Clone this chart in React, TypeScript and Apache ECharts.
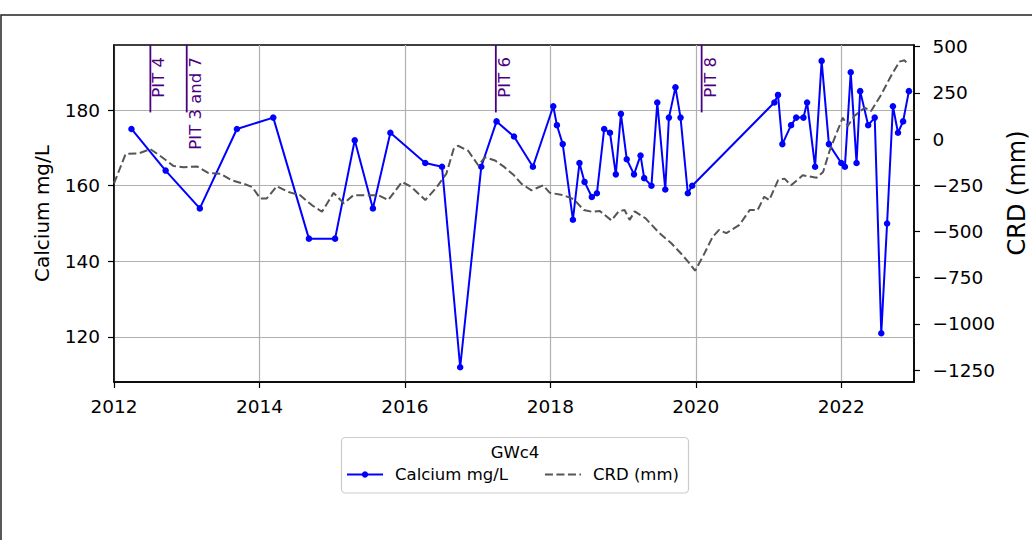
import React, { useEffect, useRef } from 'react';
import * as echarts from 'echarts';

const FONT = 'DejaVu Sans';

// Calcium (mg/L) samples, decimal years
const caYears = [2012.24, 2012.71, 2013.18, 2013.69, 2014.19, 2014.68, 2015.04, 2015.31, 2015.56, 2015.80,
  2016.28, 2016.51, 2016.76, 2017.05, 2017.26, 2017.50, 2017.76, 2018.04, 2018.09, 2018.17,
  2018.31, 2018.40, 2018.47, 2018.57, 2018.64, 2018.74, 2018.82, 2018.90, 2018.97, 2019.05,
  2019.15, 2019.24, 2019.29, 2019.39, 2019.47, 2019.58, 2019.63, 2019.72, 2019.79, 2019.89,
  2019.95, 2021.08, 2021.13, 2021.19, 2021.31, 2021.38, 2021.48, 2021.53, 2021.64, 2021.73,
  2021.83, 2022.00, 2022.05, 2022.13, 2022.21, 2022.26, 2022.37, 2022.46, 2022.55, 2022.63,
  2022.71, 2022.78, 2022.85, 2022.93];
const caValues = [175, 164, 154, 175, 178, 146, 146, 172, 154, 174,
  166, 165, 112, 165, 177, 173, 165, 181, 176, 171,
  151, 166, 161, 157, 158, 175, 174, 163, 179, 167,
  163, 168, 162, 160, 182, 159, 178, 186, 178, 158,
  160, 182, 184, 171, 176, 178, 178, 182, 165, 193,
  171, 166, 165, 190, 166, 185, 176, 178, 121, 150,
  181, 174, 177, 185];

// CRD (mm)
const crdYears = [2012.0, 2012.16, 2012.34, 2012.5, 2012.66, 2012.82, 2012.96, 2013.14, 2013.30, 2013.46,
  2013.62, 2013.78, 2013.90, 2014.01, 2014.10, 2014.24, 2014.40, 2014.56, 2014.72, 2014.86,
  2015.02, 2015.16, 2015.29, 2015.48, 2015.64, 2015.77, 2015.96, 2016.09, 2016.28, 2016.44,
  2016.57, 2016.67, 2016.73, 2016.87, 2017.01, 2017.10, 2017.24, 2017.37, 2017.50, 2017.60,
  2017.74, 2017.90, 2017.99, 2018.18, 2018.32, 2018.46, 2018.57, 2018.68, 2018.84, 2018.94,
  2019.02, 2019.09, 2019.16, 2019.31, 2019.49, 2019.66, 2019.79, 2019.89, 2019.99, 2020.11,
  2020.23, 2020.32, 2020.42, 2020.60, 2020.74, 2020.85, 2020.94, 2021.01, 2021.13, 2021.22,
  2021.31, 2021.47, 2021.66, 2021.75, 2021.84, 2021.93, 2022.02, 2022.09, 2022.18, 2022.32,
  2022.41, 2022.55, 2022.68, 2022.80, 2022.87, 2022.92];
const crdValues = [-240, -80, -77, -54, -98, -146, -152, -148, -184, -187,
  -223, -241, -259, -321, -321, -255, -286, -304, -357, -393,
  -291, -348, -304, -304, -304, -330, -232, -259, -330, -259,
  -187, -54, -36, -63, -143, -98, -116, -152, -196, -241,
  -277, -250, -290, -304, -325, -384, -393, -389, -440, -390,
  -384, -437, -391, -429, -505, -562, -616, -661, -712, -625,
  -530, -491, -509, -464, -384, -384, -312, -330, -223, -214,
  -250, -196, -209, -178, -63, 27, 116, 71, 125, 170,
  152, 241, 339, 419, 426, 402];

const pitYears = [2012.5, 2013.0, 2017.25, 2020.08];
const pitLabels = ['PIT 4', 'PIT 3 and 7', 'PIT 6', 'PIT 8'];

const xTicks = [2012, 2014, 2016, 2018, 2020, 2022];
const caTicks = [120, 140, 160, 180];
const crdTicks = [-1250, -1000, -750, -500, -250, 0, 250, 500];

const legendTitle = 'GWc4';
const caName = 'Calcium mg/L';
const crdName = 'CRD (mm)';

export default function App() {
  const ref = useRef<HTMLDivElement>(null);
  useEffect(() => {
    const chart = echarts.init(ref.current!, null, { renderer: 'svg' });
    const axisLine = { show: true, onZero: false, lineStyle: { color: '#000', width: 1.5 } };
    const axisTick = { show: true, inside: false, length: 6, lineStyle: { color: '#000', width: 1.2 } };
    const labelBase = { color: '#000', fontFamily: FONT, fontSize: 18.5 };
    const purple = '#4b0082';
    const option: any = {
      animation: false,
      backgroundColor: '#fff',
      grid: { left: 114, right: 118, top: 45, bottom: 158, show: true, borderColor: '#000', borderWidth: 1.5, backgroundColor: 'transparent', containLabel: false },
      xAxis: {
        type: 'value', min: 2012, max: 2023, interval: 2,
        axisLine,
        axisTick: { ...axisTick, customValues: xTicks },
        axisLabel: { ...labelBase, margin: 15, customValues: xTicks, formatter: (v: number) => (xTicks.includes(v) ? String(v) : '') },
        splitLine: { show: true, lineStyle: { color: '#b0b0b0', width: 1.2 } },
      },
      yAxis: [
        {
          type: 'value', min: 108.1, max: 197.2, position: 'left',
          name: caName, nameLocation: 'middle', nameGap: 62,
          nameTextStyle: { color: '#000', fontFamily: FONT, fontSize: 20 },
          axisLine,
          axisTick: { ...axisTick, customValues: caTicks },
          axisLabel: { ...labelBase, margin: 14, customValues: caTicks, formatter: (v: number) => (caTicks.includes(v) ? String(v) : '') },
          splitLine: { show: true, lineStyle: { color: '#b0b0b0', width: 1.2 } },
        },
        {
          type: 'value', min: -1314, max: 509, position: 'right',
          axisLine,
          axisTick: { ...axisTick, customValues: crdTicks },
          axisLabel: { ...labelBase, margin: 18.5, customValues: crdTicks, formatter: (v: number) => String(v).replace('-', '\u2212') },
          splitLine: { show: false },
        },
      ],
      legend: {
        data: [{ name: caName }, { name: crdName, itemStyle: { opacity: 0 } }],
        left: 346, top: 466, orient: 'horizontal', padding: 0,
        itemWidth: 36, itemHeight: 8, itemGap: 36,
        textStyle: { color: '#000', fontFamily: FONT, fontSize: 16.5, padding: [0, 0, 0, 7] },
      },
      graphic: [
        { type: 'rect', silent: true, z: -10, shape: { x: 1, y: 15, width: 1200, height: 700 }, style: { fill: 'none', stroke: '#222', lineWidth: 1.5 } },
        { type: 'rect', silent: true, shape: { x: 341.5, y: 437.5, width: 347, height: 55.5, r: 4 }, style: { fill: '#fff', stroke: '#cccccc', lineWidth: 1.2 } },
        { type: 'text', silent: true, x: 515, y: 452.5, style: { text: legendTitle, fontSize: 16.5, fontFamily: FONT, fill: '#000', align: 'center', verticalAlign: 'middle' } },
        { type: 'text', silent: true, x: 1016.5, y: 193, rotation: Math.PI / 2, style: { text: crdName, fontSize: 24, fontFamily: FONT, fill: '#000', align: 'center', verticalAlign: 'middle' } },
      ],
      series: [
        {
          type: 'line', name: caName, yAxisIndex: 0,
          data: caYears.map((x, i) => [x, caValues[i]]),
          symbol: 'circle', symbolSize: 6.5, showSymbol: true,
          color: '#0000ff',
          lineStyle: { color: '#0000ff', width: 2 },
          itemStyle: { color: '#0000ff' },
          z: 3,
        },
        {
          type: 'line', name: crdName, yAxisIndex: 1,
          data: crdYears.map((x, i) => [x, crdValues[i]]),
          symbol: 'none', showSymbol: false,
          color: '#555555',
          lineStyle: { color: '#555555', width: 2, type: [8, 3.5] },
          itemStyle: { color: '#555555' },
          z: 4,
        },
        {
          type: 'custom', name: 'pits', yAxisIndex: 0, silent: true, z: 5,
          data: pitYears.map((x) => [x]),
          renderItem: (params: any, api: any) => {
            const x = api.coord([api.value(0), 150])[0];
            const cs = params.coordSys;
            return {
              type: 'group',
              children: [
                { type: 'line', shape: { x1: x, y1: cs.y, x2: x, y2: cs.y + cs.height * 0.2 }, style: { stroke: purple, lineWidth: 1.8 } },
                { type: 'text', x: x, y: cs.y + 12, rotation: Math.PI / 2, style: { text: pitLabels[params.dataIndex], fill: purple, fontSize: 16.5, fontFamily: FONT, align: 'right', verticalAlign: 'top' } },
              ],
            };
          },
        },
      ],
    };
    chart.setOption(option);
    return () => chart.dispose();
  }, []);
  return <div ref={ref} style={{ position: 'fixed', left: 0, top: 0, width: 1032, height: 540, background: '#fff' }} />;
}
